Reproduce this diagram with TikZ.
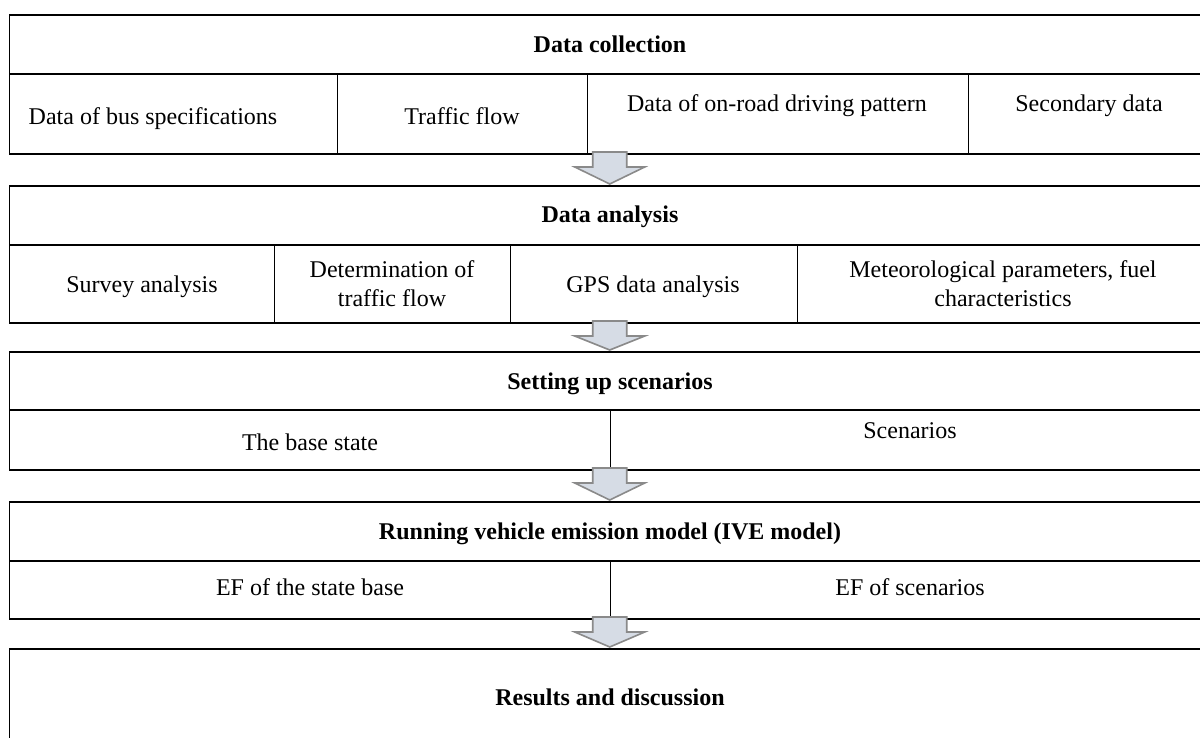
\documentclass[tikz,border=0pt]{standalone}
\usepackage{fontspec}
\setmainfont{Liberation Serif}
\usetikzlibrary{calc}
\definecolor{arrowfill}{HTML}{D6DCE5}
\definecolor{arrowline}{HTML}{8A8A8A}
\tikzset{
  boxsty/.style={draw=black, line width=1.5pt, inner sep=0pt, outer sep=0pt, rectangle},
  hline/.style={draw=black, line width=1.5pt},
  divline/.style={draw=black, line width=1pt},
  headtxt/.style={font=\fontsize{24}{29}\selectfont\bfseries, anchor=base, inner sep=0pt},
  celltxt/.style={font=\fontsize{24}{29}\selectfont, anchor=base, inner sep=0pt, align=center},
  barrow/.style={draw=arrowline, fill=arrowfill, line width=1.6pt, line join=miter},
}
\newcommand\blockarr[2]{%
  \draw[barrow] ($(#1.south)+(-17,-2)$) -- ($(#1.south)+(17,-2)$) -- ($(#1.south)+(17,13)$)
    -- ($(#1.south)+(35,13)$) -- ($(#2.north)+(0,-2)$) -- ($(#1.south)+(-35,13)$)
    -- ($(#1.south)+(-17,13)$) -- cycle;}
\begin{document}
\begin{tikzpicture}[x=1pt,y=-1pt]
\useasboundingbox (0,0) rectangle (1200,738);
\clip (0,0) rectangle (1200,738);
\fill[white] (0,0) rectangle (1200,738);
% boxes
\node[boxsty, minimum width=1200.5pt, minimum height=139pt] (b1) at (609.75,84.5) {};
\node[boxsty, minimum width=1200.5pt, minimum height=137pt] (b2) at (609.75,254.5) {};
\node[boxsty, minimum width=1200.5pt, minimum height=118pt] (b3) at (609.75,411) {};
\node[boxsty, minimum width=1200.5pt, minimum height=117pt] (b4) at (609.75,560.5) {};
\node[boxsty, minimum width=1200.5pt, minimum height=111pt] (b5) at (609.75,704.5) {};
% header lines
\draw[hline] (b1.west |- 0,74) -- (b1.east |- 0,74);
\draw[hline] (b2.west |- 0,245) -- (b2.east |- 0,245);
\draw[hline] (b3.west |- 0,410) -- (b3.east |- 0,410);
\draw[hline] (b4.west |- 0,561) -- (b4.east |- 0,561);
% dividers
\draw[divline] (337,74) -- (337,0 |- b1.south);
\draw[divline] (587,74) -- (587,0 |- b1.south);
\draw[divline] (968,74) -- (968,0 |- b1.south);
\draw[divline] (274,245) -- (274,0 |- b2.south);
\draw[divline] (510,245) -- (510,0 |- b2.south);
\draw[divline] (797,245) -- (797,0 |- b2.south);
\draw[divline] (610,410) -- (610,0 |- b3.south);
\draw[divline] (610,561) -- (610,0 |- b4.south);
% headers
\node[headtxt] (h1) at (610,53) {Data collection};
\node[headtxt] (h2) at (610,223) {Data analysis};
\node[headtxt] (h3) at (610,389) {Setting up scenarios};
\node[headtxt] (h4) at (610,539) {Running vehicle emission model (IVE model)};
\node[headtxt] (h5) at (610,705) {Results and discussion};
% row 1
\node[celltxt] (c11) at (153,125) {Data of bus specifications};
\node[celltxt] (c12) at (462,125) {Traffic flow};
\node[celltxt] (c13) at (777,112) {Data of on-road driving pattern};
\node[celltxt] (c14) at (1089,112) {Secondary data};
% row 2
\node[celltxt] (c21) at (142,292) {Survey analysis};
\node[celltxt, anchor=north] (c22) at (392,260) {Determination of\\traffic flow};
\node[celltxt] (c23) at (653,292) {GPS data analysis};
\node[celltxt, anchor=north] (c24) at (1003,260) {Meteorological parameters, fuel\\characteristics};
% row 3
\node[celltxt] (c31) at (310,450) {The base state};
\node[celltxt] (c32) at (910,438) {Scenarios};
% row 4
\node[celltxt] (c41) at (310,595) {EF of the state base};
\node[celltxt] (c42) at (910,595) {EF of scenarios};
% arrows
\blockarr{b1}{b2}
\blockarr{b2}{b3}
\blockarr{b3}{b4}
\blockarr{b4}{b5}
\end{tikzpicture}
\end{document}
